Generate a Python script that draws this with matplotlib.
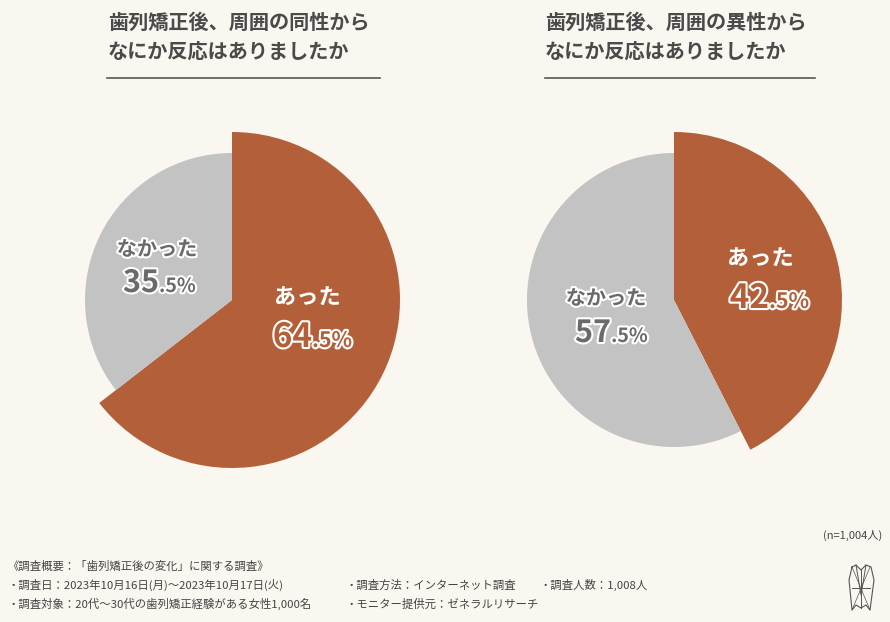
import matplotlib.pyplot as plt
import matplotlib.patheffects as pe

plt.rcParams['font.family'] = ['Noto Sans CJK JP', 'DejaVu Sans']

answers = ['あった', 'なかった']
same_sex = [64.5, 35.5]
opposite_sex = [42.5, 57.5]
titles = ['歯列矯正後、周囲の同性から\nなにか反応はありましたか',
          '歯列矯正後、周囲の異性から\nなにか反応はありましたか']
sample_note = '(n=1,004人)'
footer_rows = [
    ['《調査概要：「歯列矯正後の変化」に関する調査》'],
    ['・調査日：2023年10月16日(月)〜2023年10月17日(火)', '・調査方法：インターネット調査', '・調査人数：1,008人'],
    ['・調査対象：20代〜30代の歯列矯正経験がある女性1,000名', '・モニター提供元：ゼネラルリサーチ'],
]

BG = '#faf7f0'
ORANGE = '#b3603a'
GRAY = '#c3c3c3'
W, H = 890, 622

fig = plt.figure(figsize=(8.9, 6.22), dpi=100, facecolor=BG)
ax = fig.add_axes([0, 0, 1, 1])


def Y(y):
    # image pixel row -> axes coordinate (y up)
    return H - y


def draw_pie(values, cx, labels_pos):
    wedges, _ = ax.pie(values, colors=[ORANGE, GRAY], startangle=90,
                       counterclock=False, radius=168, center=(cx, Y(300)))
    wedges[1].set_radius(147)
    for i, (lx, ly, sx, by) in enumerate(labels_pos):
        val = values[i]
        big = str(int(val))
        small = '.' + f'{val:.1f}'.split('.')[1] + '%'
        if i == 0:
            ax.text(lx, Y(ly), answers[i], ha='center', va='center', fontsize=16,
                    fontweight='bold', color='white')
            fill, fs = ORANGE, 24
        else:
            ax.text(lx, Y(ly), answers[i], ha='center', va='center', fontsize=14.5,
                    fontweight='bold', color='#6a6a6a',
                    path_effects=[pe.withStroke(linewidth=3, foreground='white')])
            fill, fs = '#6a6a6a', 22
        stroke = [pe.withStroke(linewidth=3, foreground='white')]
        ax.text(sx, Y(by), big, ha='right', va='baseline', fontsize=fs,
                fontweight='bold', color=fill, path_effects=stroke)
        ax.text(sx, Y(by), small, ha='left', va='baseline', fontsize=fs * 0.64,
                fontweight='bold', color=fill, path_effects=stroke)


draw_pie(same_sex, 232, [(307, 297, 312, 347), (157, 249, 159, 292)])
draw_pie(opposite_sex, 674, [(760, 258, 769, 308), (606, 298, 611, 342)])

# titles and underlines
for tx, (x0, x1), t in [(108, (107, 380), titles[0]), (545, (545, 815), titles[1])]:
    ax.text(tx, Y(37), t, ha='left', va='center', fontsize=14.5,
            fontweight='bold', color='#4a4a4a', linespacing=1.45)
    ax.plot([x0, x1], [Y(78), Y(78)], color='#555555', lw=1.2)

ax.text(882, Y(535), sample_note, ha='right', va='center', fontsize=8, color='#444444')

col_x = [8, 345, 540]
row_y = [566, 585, 604]
for ry, row in zip(row_y, footer_rows):
    for cx_, txt in zip(col_x, row):
        ax.text(cx_, Y(ry), txt, ha='left', va='center', fontsize=8.2, color='#444444')

# logo
lx = [852, 856, 861, 866, 871, 874, 870, 866, 861, 856, 852, 849, 852]
ly = [567, 565, 570, 565, 567, 580, 610, 605, 608, 605, 610, 580, 567]
ax.plot(lx, [Y(v) for v in ly], color='#555555', lw=0.8)
ax.plot([856, 861, 866], [Y(565), Y(595), Y(565)], color='#555555', lw=0.7)
ax.plot([852, 870], [Y(588), Y(588)], color='#555555', lw=0.7)
ax.plot([861, 861], [Y(570), Y(608)], color='#555555', lw=0.7)
ax.plot([852, 870], [Y(567), Y(610)], color='#555555', lw=0.5)
ax.plot([870, 852], [Y(567), Y(610)], color='#555555', lw=0.5)

ax.set_xlim(0, W)
ax.set_ylim(0, H)
ax.set_aspect('equal')
ax.axis('off')
ax.set_facecolor(BG)

fig.savefig('out.png', dpi=100, facecolor=BG)
